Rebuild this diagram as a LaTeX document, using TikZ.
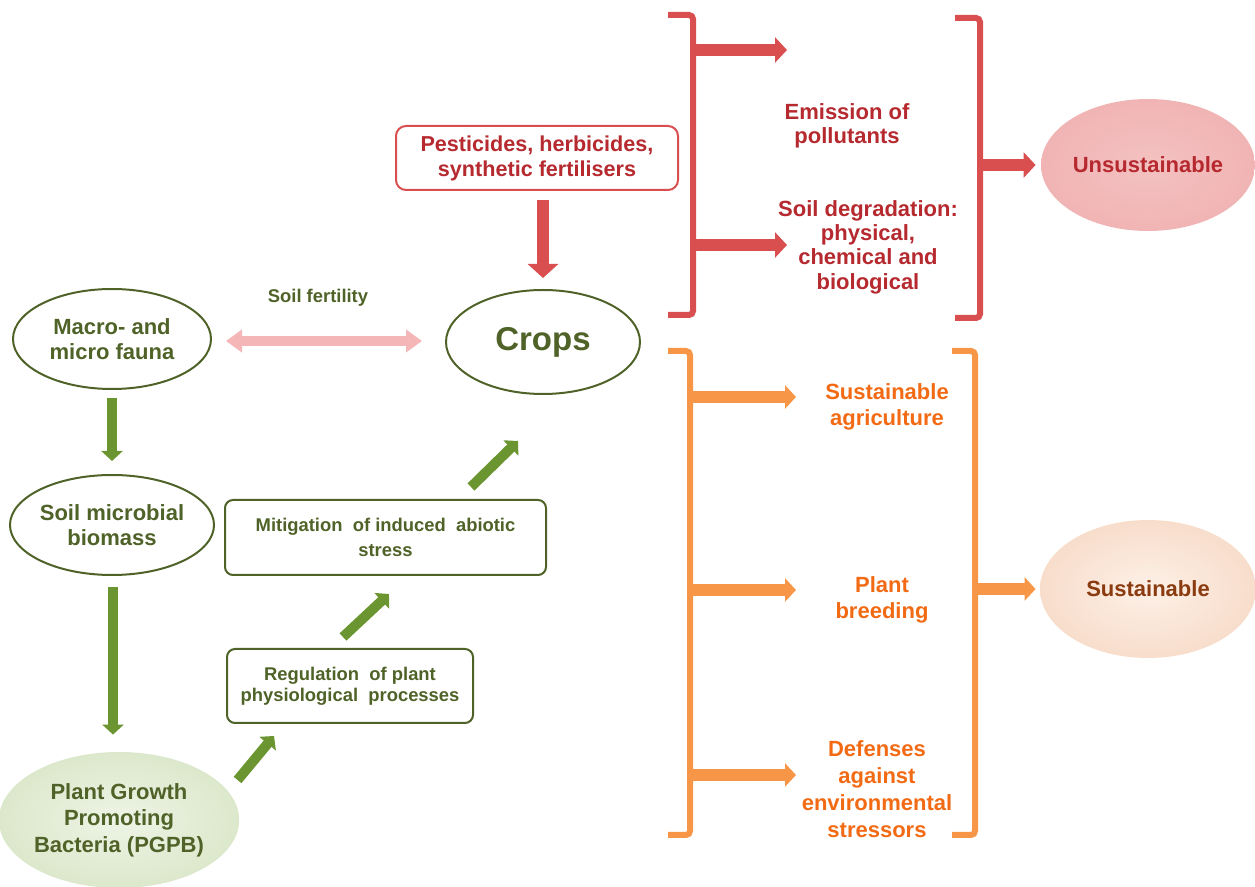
\documentclass[tikz,border=0pt]{standalone}
\usepackage{fontspec}
\setmainfont{Liberation Sans}
\usetikzlibrary{arrows.meta,shapes.geometric,calc}
\definecolor{gtext}{HTML}{4F6228}
\definecolor{gline}{HTML}{4F6228}
\definecolor{garr}{HTML}{6A9530}
\definecolor{rline}{HTML}{D94E4E}
\definecolor{rtext}{HTML}{B5292F}
\definecolor{otext}{HTML}{F26B14}
\definecolor{oline}{HTML}{F79646}
\definecolor{pinkarr}{HTML}{F4B6B6}
\definecolor{unsfill}{HTML}{F1B4B4}
\definecolor{unsin}{HTML}{F4C1C1}
\definecolor{susin}{HTML}{FDF0E7}
\definecolor{susout}{HTML}{F8DDCB}
\definecolor{sustext}{HTML}{8A3B0F}
\definecolor{pgin}{HTML}{EEF4E6}
\definecolor{pgout}{HTML}{DCE8CB}
\begin{document}
\begin{tikzpicture}[x=0.5pt,y=-0.5pt,
  txt/.style={align=center, inner sep=0pt},
  f11/.style={font=\fontsize{11}{12.2}\selectfont\bfseries},
  f11o/.style={font=\fontsize{11}{13}\selectfont\bfseries},
  f9/.style={font=\fontsize{9.2}{10.6}\selectfont\bfseries},
  gell/.style={ellipse, draw=gline, line width=1pt, inner sep=0pt, text=gtext, align=center},
  gbox/.style={rectangle, rounded corners=4pt, draw=gline, line width=1pt, inner sep=0pt, text=gtext, align=center},
  garrow/.style={draw=garr, line width=5pt, -{Triangle[length=5pt,width=10.5pt]}},
  rarrow/.style={draw=rline, line width=6pt, -{Triangle[length=6pt,width=12.5pt]}},
  oarrow/.style={draw=oline, line width=6pt, -{Triangle[length=5.5pt,width=11.5pt]}},
  rbrack/.style={draw=rline, line width=3pt, rounded corners=2pt},
  obrack/.style={draw=oline, line width=3pt, rounded corners=2pt},
]
\useasboundingbox (0,0) rectangle (1255,887);

% ---- green side ----
\node[gell, f11, minimum width=99pt, minimum height=50pt] (macro) at (112,339) {Macro- and\\micro fauna};
\node[gell, minimum width=97pt, minimum height=52pt, font=\fontsize{16.5}{18}\selectfont\bfseries] (crops) at (543,342) {Crops};
\node[gell, f11, minimum width=99pt, minimum height=50pt] (soil) at (112,525) {Soil microbial\\biomass};
\node[ellipse, inner sep=0pt, minimum width=110pt, minimum height=68pt, inner color=pgin, outer color=pgout, text=gtext, align=center, font=\fontsize{11}{13.2}\selectfont\bfseries] (pgpb) at (119,820) {Plant Growth\\Promoting\\Bacteria (PGPB)};
\node[gbox, f9, minimum width=123pt, minimum height=37pt] (reg) at (350,686) {Regulation \ of plant\\physiological \ processes};
\node[gbox, f9, minimum width=160.5pt, minimum height=37.5pt, font=\fontsize{9.2}{12.5}\selectfont\bfseries] (mitig) at (385.5,537.5) {Mitigation \ of induced \ abiotic\\stress};
\node[txt, text=gtext, font=\fontsize{9.2}{11}\selectfont\bfseries] (fert) at (318,298) {Soil fertility};

\draw[draw=pinkarr, line width=5pt, {Triangle[length=8pt,width=11pt]}-{Triangle[length=8pt,width=11pt]}]
  ($(macro.east)+(14,2)$) -- ($(crops.west)+(-23,-1)$);
\draw[garrow] ($(macro.south)+(0,8)$) -- ($(soil.north)+(0,-13)$);
\draw[garrow] ($(soil.south)+(1,11)$) -- ($(soil.south |- pgpb.north)+(1,-17)$);
\draw[garrow] ($(pgpb.east)+(-2,-40)$) -- ($(reg.south west)+(48,12)$);
\draw[garrow] ($(reg.north)+(-7,-11)$) -- ($(mitig.south)+(3.5,18)$);
\draw[garrow] ($(mitig.north)+(85.5,-12)$) -- ($(crops.south)+(-25,46)$);

% ---- red side ----
\node[rectangle, rounded corners=5pt, draw=rline, line width=1pt, inner sep=0pt, text=rtext, align=center,
      minimum width=141pt, minimum height=32pt, font=\fontsize{10.8}{12.5}\selectfont\bfseries] (pest) at (537,158)
      {Pesticides, herbicides,\\synthetic fertilisers};
\draw[rarrow, -{Triangle[length=7pt,width=15pt]}] ($(pest.south)+(6,9)$) -- ($(crops.north)+(0,-11)$);

\draw[rbrack] (668,15) -- (693,15) -- (693,315) -- (668,315);
\coordinate (rb1) at (693,50);
\coordinate (rb2) at (693,245);
\coordinate (re1) at (787,50);
\coordinate (re2) at (787,245);
\draw[rarrow] (rb1) -- (re1);
\draw[rarrow] (rb2) -- (re2);
\node[txt, text=rtext, f11] (emis) at (847,126) {Emission of\\pollutants};
\node[txt, text=rtext, font=\fontsize{11}{12.2}\selectfont\bfseries] (degr) at (868,247) {Soil degradation:\\physical,\\chemical and\\biological};
\draw[rbrack] (955,18) -- (980,18) -- (980,318) -- (955,318);
\node[ellipse, inner sep=0pt, minimum width=107pt, minimum height=66pt, inner color=unsin, outer color=unsfill, text=rtext, f11] (unsus) at (1148,165) {Unsustainable};
\coordinate (rb3) at (980,165);
\draw[rarrow] (rb3) -- ($(unsus.west)+(-5,0)$);

% ---- orange side ----
\draw[obrack] (668,351) -- (690,351) -- (690,835) -- (668,835);
\coordinate (ob1) at (690,397);
\coordinate (ob2) at (690,590);
\coordinate (ob3) at (690,775);
\coordinate (oe1) at (796,397);
\coordinate (oe2) at (796,590);
\coordinate (oe3) at (796,775);
\draw[oarrow] (ob1) -- (oe1);
\draw[oarrow] (ob2) -- (oe2);
\draw[oarrow] (ob3) -- (oe3);
\node[txt, text=otext, f11o] (sagr) at (887,407) {Sustainable\\agriculture};
\node[txt, text=otext, f11o] (breed) at (882,600) {Plant\\breeding};
\node[txt, text=otext, font=\fontsize{11}{13.6}\selectfont\bfseries] (def) at (877,789) {Defenses\\against\\environmental\\stressors};
\draw[obrack] (952,351) -- (975,351) -- (975,835) -- (952,835);
\node[ellipse, inner sep=0pt, minimum width=108pt, minimum height=69pt, inner color=susin, outer color=susout, text=sustext, f11] (sus) at (1148,589) {Sustainable};
\coordinate (ob4) at (975,589);
\draw[oarrow] (ob4) -- ($(sus.west)+(-4,0)$);
\end{tikzpicture}
\end{document}
